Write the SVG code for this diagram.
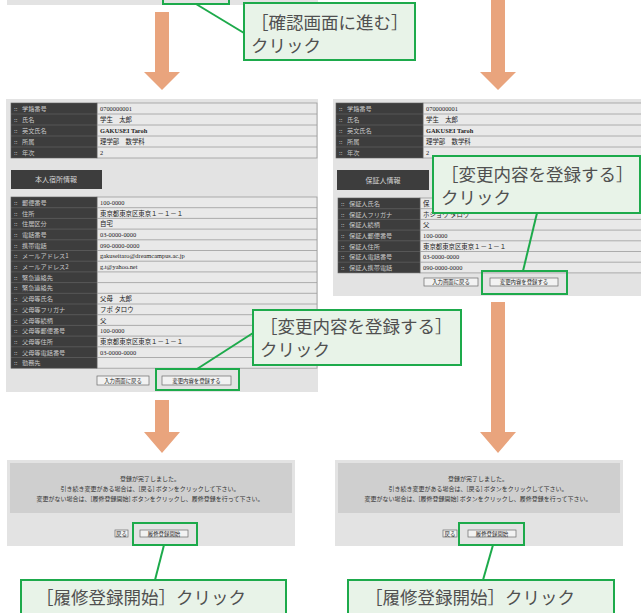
<svg xmlns="http://www.w3.org/2000/svg" width="641" height="613" viewBox="0 0 641 613">
<style>
.bg{fill:#e3e3e3}
.lab{fill:#3d3d3d;stroke:#5e5e5e;stroke-width:0.6}
.val{fill:#e9e9e9;stroke:#9c9c9c;stroke-width:0.8}
.rl{stroke:#9c9c9c;stroke-width:0.8;fill:none}
.rd{stroke:#6a6a6a;stroke-width:0.6;fill:none}
.lt{font-family:"Noto Sans CJK JP",sans-serif;font-size:6.2px;fill:#c8c8c8}
.vt{font-family:"Liberation Serif","Noto Sans CJK JP",serif;font-size:6.4px;fill:#222}
.hd{fill:#3d3d3d}
.ht{font-family:"Noto Sans CJK JP",sans-serif;font-size:7px;fill:#d6d6d6;text-anchor:middle}
.btn{fill:#f2f2f2;stroke:#6a6a6a;stroke-width:0.7}
.bt{font-family:"Noto Sans CJK JP",sans-serif;font-size:5.4px;fill:#222;text-anchor:middle}
.hl{fill:none;stroke:#1daa4b;stroke-width:2}
.co{fill:#e8f3e8;stroke:#1daa4b;stroke-width:2}
.ct{font-family:"Noto Sans CJK JP",sans-serif;font-size:17.5px;fill:#505050}
.lead{stroke:#1daa4b;stroke-width:2;fill:none}
.arr{fill:#e9a47d}
.msg{fill:#cfcfcf}
.mt{font-family:"Noto Sans CJK JP",sans-serif;font-size:6px;fill:#333;text-anchor:middle}
</style>

<g id="screen-top">
<rect class="bg" x="7" y="0" width="311" height="5"/>
<rect class="hl" x="163" y="-4" width="66" height="8"/>
</g>

<g id="screen-input-left">
<rect class="bg" x="6" y="99" width="312" height="293"/>
<rect class="val" x="97" y="103" width="220" height="55"/>
<rect class="lab" x="11" y="103" width="86" height="55"/>
<path class="rl" d="M97 114H317M97 125H317M97 136H317M97 147H317"/>
<path class="rd" d="M11 114H97M11 125H97M11 136H97M11 147H97"/>
<text class="lt" x="14" y="111">::</text><text class="lt" x="22" y="111">学籍番号</text><text class="vt" x="100" y="111">0700000001</text>
<text class="lt" x="14" y="122">::</text><text class="lt" x="22" y="122">氏名</text><text class="vt" x="100" y="122">学生　太郎</text>
<text class="lt" x="14" y="133">::</text><text class="lt" x="22" y="133">英文氏名</text><text class="vt" x="100" y="133" font-weight="bold">GAKUSEI Taroh</text>
<text class="lt" x="14" y="144">::</text><text class="lt" x="22" y="144">所属</text><text class="vt" x="100" y="144">理学部　数学科</text>
<text class="lt" x="14" y="155">::</text><text class="lt" x="22" y="155">年次</text><text class="vt" x="100" y="155">2</text>
<rect class="hd" x="11" y="170" width="91" height="19"/>
<text class="ht" x="56" y="182">本人宿所情報</text>
<rect class="val" x="97" y="197" width="220" height="171.2"/>
<rect class="lab" x="11" y="197" width="86" height="171.2"/>
<path class="rl" d="M97 207.7H317M97 218.4H317M97 229.1H317M97 239.8H317M97 250.5H317M97 261.2H317M97 271.9H317M97 282.6H317M97 293.3H317M97 304H317M97 314.7H317M97 325.4H317M97 336.1H317M97 346.8H317M97 357.5H317"/>
<path class="rd" d="M11 207.7H97M11 218.4H97M11 229.1H97M11 239.8H97M11 250.5H97M11 261.2H97M11 271.9H97M11 282.6H97M11 293.3H97M11 304H97M11 314.7H97M11 325.4H97M11 336.1H97M11 346.8H97M11 357.5H97"/>
<text class="lt" x="14" y="204.8">::</text><text class="lt" x="22" y="204.8">郵便番号</text><text class="vt" x="100" y="204.8">100-0000</text>
<text class="lt" x="14" y="215.5">::</text><text class="lt" x="22" y="215.5">住所</text><text class="vt" x="100" y="215.5">東京都東京区東京１－１－１</text>
<text class="lt" x="14" y="226.2">::</text><text class="lt" x="22" y="226.2">住居区分</text><text class="vt" x="100" y="226.2">自宅</text>
<text class="lt" x="14" y="236.9">::</text><text class="lt" x="22" y="236.9">電話番号</text><text class="vt" x="100" y="236.9">03-0000-0000</text>
<text class="lt" x="14" y="247.6">::</text><text class="lt" x="22" y="247.6">携帯電話</text><text class="vt" x="100" y="247.6">090-0000-0000</text>
<text class="lt" x="14" y="258.3">::</text><text class="lt" x="22" y="258.3">メールアドレス1</text><text class="vt" x="100" y="258.3">gakuseitaro@dreamcampus.ac.jp</text>
<text class="lt" x="14" y="269">::</text><text class="lt" x="22" y="269">メールアドレス2</text><text class="vt" x="100" y="269">g.t@yahoo.net</text>
<text class="lt" x="14" y="279.7">::</text><text class="lt" x="22" y="279.7">緊急連絡先</text>
<text class="lt" x="14" y="290.4">::</text><text class="lt" x="22" y="290.4">緊急連絡先</text>
<text class="lt" x="14" y="301.1">::</text><text class="lt" x="22" y="301.1">父母等氏名</text><text class="vt" x="100" y="301.1">父母　太郎</text>
<text class="lt" x="14" y="311.8">::</text><text class="lt" x="22" y="311.8">父母等フリガナ</text><text class="vt" x="100" y="311.8">フボ タロウ</text>
<text class="lt" x="14" y="322.5">::</text><text class="lt" x="22" y="322.5">父母等続柄</text><text class="vt" x="100" y="322.5">父</text>
<text class="lt" x="14" y="333.2">::</text><text class="lt" x="22" y="333.2">父母等郵便番号</text><text class="vt" x="100" y="333.2">100-0000</text>
<text class="lt" x="14" y="343.9">::</text><text class="lt" x="22" y="343.9">父母等住所</text><text class="vt" x="100" y="343.9">東京都東京区東京１－１－１</text>
<text class="lt" x="14" y="354.6">::</text><text class="lt" x="22" y="354.6">父母等電話番号</text><text class="vt" x="100" y="354.6">03-0000-0000</text>
<text class="lt" x="14" y="365.3">::</text><text class="lt" x="22" y="365.3">勤務先</text>
<rect class="btn" x="97" y="376" width="52" height="9"/><text class="bt" x="123" y="382.6">入力画面に戻る</text>
<rect class="btn" x="162" y="376" width="69" height="9"/><text class="bt" x="196.5" y="382.6">変更内容を登録する</text>
<rect class="hl" x="156" y="369" width="83" height="21"/>
</g>

<g id="screen-input-right">
<rect class="bg" x="333" y="99" width="308" height="197"/>
<rect class="val" x="423" y="103" width="220" height="55"/>
<rect class="lab" x="336" y="103" width="87" height="55"/>
<path class="rl" d="M423 114H641M423 125H641M423 136H641M423 147H641"/>
<path class="rd" d="M336 114H423M336 125H423M336 136H423M336 147H423"/>
<text class="lt" x="339" y="111">::</text><text class="lt" x="347" y="111">学籍番号</text><text class="vt" x="426" y="111">0700000001</text>
<text class="lt" x="339" y="122">::</text><text class="lt" x="347" y="122">氏名</text><text class="vt" x="426" y="122">学生　太郎</text>
<text class="lt" x="339" y="133">::</text><text class="lt" x="347" y="133">英文氏名</text><text class="vt" x="426" y="133" font-weight="bold">GAKUSEI Taroh</text>
<text class="lt" x="339" y="144">::</text><text class="lt" x="347" y="144">所属</text><text class="vt" x="426" y="144">理学部　数学科</text>
<text class="lt" x="339" y="155">::</text><text class="lt" x="347" y="155">年次</text><text class="vt" x="426" y="155">2</text>
<rect class="hd" x="337" y="170" width="92" height="20"/>
<text class="ht" x="383" y="182.5">保証人情報</text>
<rect class="val" x="420" y="198" width="223" height="74.9"/>
<rect class="lab" x="338" y="198" width="82" height="74.9"/>
<path class="rl" d="M420 208.7H641M420 219.4H641M420 230.1H641M420 240.8H641M420 251.5H641M420 262.2H641"/>
<path class="rd" d="M338 208.7H420M338 219.4H420M338 230.1H420M338 240.8H420M338 251.5H420M338 262.2H420"/>
<text class="lt" x="341" y="205.8">::</text><text class="lt" x="349" y="205.8">保証人氏名</text><text class="vt" x="423" y="205.8">保</text>
<text class="lt" x="341" y="216.5">::</text><text class="lt" x="349" y="216.5">保証人フリガナ</text><text class="vt" x="423" y="216.5">ホショウ タロウ</text>
<text class="lt" x="341" y="227.2">::</text><text class="lt" x="349" y="227.2">保証人続柄</text><text class="vt" x="423" y="227.2">父</text>
<text class="lt" x="341" y="237.9">::</text><text class="lt" x="349" y="237.9">保証人郵便番号</text><text class="vt" x="423" y="237.9">100-0000</text>
<text class="lt" x="341" y="248.6">::</text><text class="lt" x="349" y="248.6">保証人住所</text><text class="vt" x="423" y="248.6">東京都東京区東京１－１－１</text>
<text class="lt" x="341" y="259.3">::</text><text class="lt" x="349" y="259.3">保証人電話番号</text><text class="vt" x="423" y="259.3">03-0000-0000</text>
<text class="lt" x="341" y="270">::</text><text class="lt" x="349" y="270">保証人携帯電話</text><text class="vt" x="423" y="270">090-0000-0000</text>
<rect class="btn" x="424" y="278" width="54" height="8"/><text class="bt" x="451" y="284">入力画面に戻る</text>
<rect class="btn" x="490" y="278" width="68" height="8"/><text class="bt" x="524" y="284">変更内容を登録する</text>
<rect class="hl" x="482" y="271" width="85" height="23"/>
</g>

<g id="screen-done-left">
<rect class="bg" x="7" y="460" width="288" height="86"/>
<rect class="msg" x="10" y="463" width="282" height="50"/>
<text class="mt" x="150" y="481">登録が完了しました。</text>
<text class="mt" x="150" y="490.5">引き続き変更がある場合は、[戻る] ボタンをクリックして下さい。</text>
<text class="mt" x="150" y="501">変更がない場合は、[履修登録開始] ボタンをクリックし、履修登録を行って下さい。</text>
<rect class="btn" x="115" y="530" width="13" height="7"/><text class="bt" x="121.5" y="535.5">戻る</text>
<rect class="btn" x="140" y="530" width="48" height="7"/><text class="bt" x="164" y="535.5">履修登録開始</text>
<rect class="hl" x="133" y="523" width="64" height="22"/>
</g>

<g id="screen-done-right">
<rect class="bg" x="335" y="460" width="288" height="86"/>
<rect class="msg" x="338" y="463" width="282" height="50"/>
<text class="mt" x="478" y="481">登録が完了しました。</text>
<text class="mt" x="478" y="490.5">引き続き変更がある場合は、[戻る] ボタンをクリックして下さい。</text>
<text class="mt" x="478" y="501">変更がない場合は、[履修登録開始] ボタンをクリックし、履修登録を行って下さい。</text>
<rect class="btn" x="443" y="530" width="14" height="7"/><text class="bt" x="450" y="535.5">戻る</text>
<rect class="btn" x="468" y="530" width="48" height="7"/><text class="bt" x="492" y="535.5">履修登録開始</text>
<rect class="hl" x="459" y="523" width="65" height="22"/>
</g>

<g id="connectors">
<polygon class="arr" points="155,12 169,12 169,72 180,72 162,90 144,72 155,72"/>
<polygon class="arr" points="491,0 505,0 505,72 516,72 498,90 480,72 491,72"/>
<polygon class="arr" points="155,400 169,400 169,432 180,432 162,453 144,432 155,432"/>
<polygon class="arr" points="491,302 505,302 505,432 516,432 498,453 480,432 491,432"/>
<line class="lead" x1="196" y1="4" x2="244" y2="33"/>
<line class="lead" x1="197" y1="369" x2="253" y2="333"/>
<line class="lead" x1="537" y1="213" x2="523" y2="271"/>
<line class="lead" x1="164" y1="545" x2="155" y2="580"/>
<line class="lead" x1="493" y1="545" x2="483" y2="580"/>
</g>

<g id="callout-confirm">
<rect class="co" x="244" y="3" width="171" height="57"/>
<text class="ct" x="251" y="29">［確認画面に進む］</text>
<text class="ct" x="251" y="52">クリック</text>
</g>
<g id="callout-register-left">
<rect class="co" x="253" y="310" width="208" height="55"/>
<text class="ct" x="260" y="333">［変更内容を登録する］</text>
<text class="ct" x="260" y="356">クリック</text>
</g>
<g id="callout-register-right">
<rect class="co" x="433" y="156" width="207" height="57"/>
<text class="ct" x="441" y="181">［変更内容を登録する］</text>
<text class="ct" x="441" y="204">クリック</text>
</g>
<g id="callout-start-left">
<rect class="co" x="21" y="580" width="265" height="40"/>
<text class="ct" x="36" y="604">［履修登録開始］クリック</text>
</g>
<g id="callout-start-right">
<rect class="co" x="348" y="580" width="266" height="40"/>
<text class="ct" x="365" y="604">［履修登録開始］クリック</text>
</g>
</svg>
